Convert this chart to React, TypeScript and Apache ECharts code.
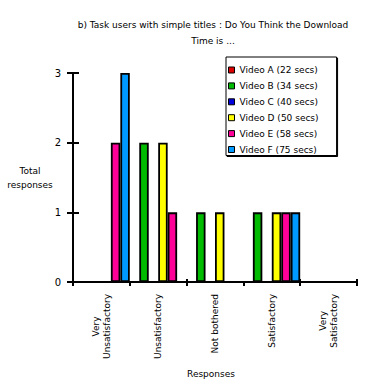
import React, { useEffect, useRef } from 'react';
import * as echarts from 'echarts';

const categories = ['Very\nUnsatisfactory', 'Unsatisfactory', 'Not bothered', 'Satisfactory', 'Very\nSatisfactory'];
const seriesNames = [
  'Video A (22 secs)',
  'Video B (34 secs)',
  'Video C (40 secs)',
  'Video D (50 secs)',
  'Video E (58 secs)',
  'Video F (75 secs)',
];
const videoA = [0, 0, 0, 0, 0];
const videoB = [0, 2, 1, 1, 0];
const videoC = [0, 0, 0, 0, 0];
const videoD = [0, 2, 1, 1, 0];
const videoE = [2, 1, 0, 1, 0];
const videoF = [3, 0, 0, 1, 0];
const seriesValues = [videoA, videoB, videoC, videoD, videoE, videoF];
const colors = ['#DD0000', '#00BB00', '#0000DD', '#FFFF00', '#FF0099', '#0099FF'];
const yMin = 0;
const yMax = 3;
const yInterval = 1;
const titleText = 'b) Task users with simple titles : Do You Think the Download\nTime is ...';
const yName = 'Total\nresponses';
const xName = 'Responses';

const FONT = 'DejaVu Sans';
const FS = 9;

function measure(t: string): number {
  const c = document.createElement('canvas').getContext('2d');
  if (!c) return t.length * 5;
  c.font = `${FS}px "${FONT}"`;
  return c.measureText(t).width;
}

export default function App() {
  const ref = useRef<HTMLDivElement>(null);
  useEffect(() => {
    if (!ref.current) return;
    const chart = echarts.init(ref.current, undefined, { renderer: 'svg' });

    const rich: Record<string, any> = {};
    categories.forEach((c, i) => {
      const parts = c.split('\n');
      if (parts.length > 1) {
        const pad = Math.max(0, (measure(parts[1]) - measure(parts[0])) / 2);
        rich['v' + i] = { fontFamily: FONT, fontSize: FS, color: '#000', padding: [0, pad, 0, 0], lineHeight: 11 };
        rich['w' + i] = { fontFamily: FONT, fontSize: FS, color: '#000', lineHeight: 11 };
      }
    });

    const black = '#000';
    chart.setOption({
      animation: false,
      title: {
        text: titleText,
        left: 208,
        top: 12,
        textAlign: 'center',
        textStyle: { fontFamily: FONT, fontSize: FS, fontWeight: 'normal', color: black, lineHeight: 16 },
      },
      legend: {
        data: seriesNames,
        orient: 'vertical',
        left: 226,
        top: 57,
        icon: 'rect',
        itemWidth: 6,
        itemHeight: 6,
        itemGap: 5.9,
        padding: [8, 18, 1, 2],
        borderColor: black,
        borderWidth: 1,
        shadowColor: '#000',
        shadowOffsetX: 1,
        shadowOffsetY: 1,
        shadowBlur: 0,
        backgroundColor: '#fff',
        itemStyle: { borderColor: black, borderWidth: 1 },
        textStyle: { fontFamily: FONT, fontSize: FS, color: black, lineHeight: 10 },
      },
      grid: { left: 73, right: 10, top: 73, bottom: 106 },
      xAxis: [
        {
          type: 'category',
          data: categories,
          axisLine: { show: true, lineStyle: { color: black, width: 2 } },
          axisTick: { show: true, length: 4, lineStyle: { color: black, width: 2 } },
          axisLabel: {
            rotate: 90,
            margin: 12,
            interval: 0,
            color: black,
            fontFamily: FONT,
            fontSize: FS,
            lineHeight: 11,
            formatter: (v: string, idx: number) => {
              const parts = v.split('\n');
              if (parts.length > 1) return `{v${idx}|${parts[0]}}\n{w${idx}|${parts[1]}}`;
              return v;
            },
            rich,
          },
          splitLine: { show: false },
        },
        {
          type: 'category',
          data: categories,
          position: 'bottom',
          axisLine: { show: false },
          axisTick: { show: true, inside: true, length: 3, lineStyle: { color: black, width: 2 } },
          axisLabel: { show: false },
          splitLine: { show: false },
        },
      ],
      yAxis: [
        {
          type: 'value',
          min: yMin,
          max: yMax,
          interval: yInterval,
          axisLine: { show: true, lineStyle: { color: black, width: 2 } },
          axisTick: { show: true, length: 6, lineStyle: { color: black, width: 2 } },
          axisLabel: { margin: 12, color: black, fontFamily: FONT, fontSize: 10 },
          splitLine: { show: false },
        },
        {
          type: 'value',
          min: yMin,
          max: yMax,
          interval: yInterval,
          position: 'left',
          axisLine: { show: false },
          axisTick: { show: true, inside: true, length: 6, lineStyle: { color: black, width: 2 } },
          axisLabel: { show: false },
          splitLine: { show: false },
        },
      ],
      graphic: [
        {
          type: 'text',
          x: 30,
          y: 178,
          style: {
            text: yName,
            textAlign: 'center',
            textVerticalAlign: 'middle',
            fontFamily: FONT,
            fontSize: FS,
            lineHeight: 14,
            fill: black,
          },
        },
        {
          type: 'text',
          x: 211,
          y: 374,
          style: {
            text: xName,
            textAlign: 'center',
            textVerticalAlign: 'middle',
            fontFamily: FONT,
            fontSize: FS,
            fill: black,
          },
        },
      ],
      series: seriesNames.map((name, i) => ({
        name,
        type: 'bar',
        xAxisIndex: 0,
        yAxisIndex: 0,
        data: seriesValues[i],
        barGap: '0%',
        barCategoryGap: '0%',
        itemStyle: { color: colors[i], borderColor: black, borderWidth: 1.8 },
      })),
    });
    return () => chart.dispose();
  }, []);
  return <div ref={ref} style={{ position: 'fixed', left: 0, top: 0, width: 367, height: 388, background: '#fff' }} />;
}
